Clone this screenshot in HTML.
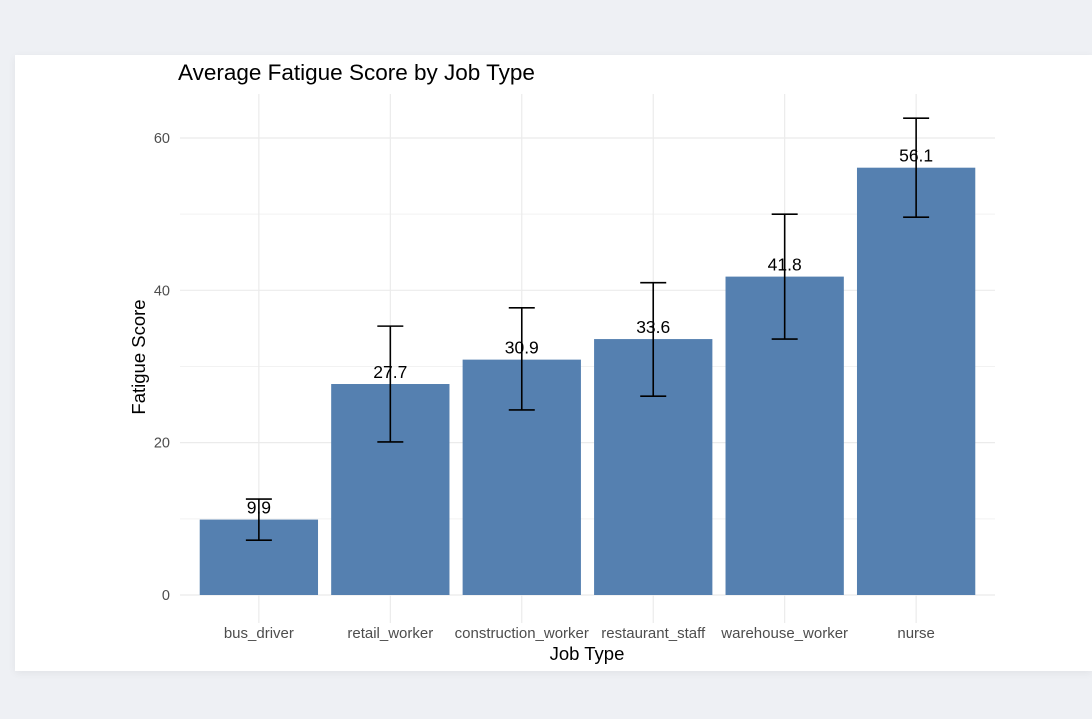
<!DOCTYPE html>
<html><head><meta charset="utf-8"><style>
body{margin:0;background:#eef0f4;font-family:"Liberation Sans",sans-serif;}
#card{position:absolute;left:15px;top:55px;width:1077px;height:616px;background:#fff;box-shadow:0 2px 8px rgba(0,0,0,0.06);}
svg{position:absolute;left:0;top:0;}
</style></head><body>
<div id="card"></div>
<svg id="chart" width="1092" height="719"></svg>
<script>
const categories=["bus_driver","retail_worker","construction_worker","restaurant_staff","warehouse_worker","nurse"];
const values=[9.9,27.7,30.9,33.6,41.8,56.1];
const errLow=[7.2,20.1,24.3,26.1,33.6,49.6];
const errHigh=[12.6,35.3,37.7,41.0,50.0,62.6];
const valueLabels=["9.9","27.7","30.9","33.6","41.8","56.1"];
const yTicks=[0,20,40,60];
const yMinor=[10,30,50];

const NS="http://www.w3.org/2000/svg";
const svg=document.getElementById('chart');
const L=180,R=995,T=94,B=595;
const y=v=>595-v*7.617;
const band=(R-L)/(categories.length+0.2);
const x=i=>L+band*(0.6+i);
function mk(t,a,p){const e=document.createElementNS(NS,t);for(const k in a)e.setAttribute(k,a[k]);(p||svg).appendChild(e);return e;}
yMinor.forEach(v=>{const l=mk('line',{x1:L,x2:R,y1:y(v),y2:y(v),stroke:'#f2f2f2','stroke-width':1});

});
yTicks.forEach(v=>{const l=mk('line',{x1:L,x2:R,y1:y(v),y2:y(v),stroke:'#ebebeb','stroke-width':1.2});


const t=mk('text',{x:170,y:y(v)+5,'text-anchor':'end','font-size':14.5,fill:'#4d4d4d'});t.textContent=v;

});
categories.forEach((c,i)=>{const l=mk('line',{x1:x(i),x2:x(i),y1:T,y2:B+28,stroke:'#ebebeb','stroke-width':1.2});

});
const bw=band*0.9;
categories.forEach((c,i)=>{
const r=mk('rect',{x:x(i)-bw/2,y:y(values[i]),width:bw,height:y(0)-y(values[i]),fill:'#5580b0'});


const g=mk('g',{stroke:'#000','stroke-width':1.6});


mk('line',{x1:x(i),x2:x(i),y1:y(errLow[i]),y2:y(errHigh[i])},g);
mk('line',{x1:x(i)-13,x2:x(i)+13,y1:y(errLow[i]),y2:y(errLow[i])},g);
mk('line',{x1:x(i)-13,x2:x(i)+13,y1:y(errHigh[i]),y2:y(errHigh[i])},g);
const t=mk('text',{x:x(i),y:y(values[i])-6,'text-anchor':'middle','font-size':17.5,fill:'#000'});t.textContent=valueLabels[i];


const xt=mk('text',{x:x(i),y:638,'text-anchor':'middle','font-size':15,fill:'#4d4d4d'});xt.textContent=c;


});
const tt=mk('text',{x:178,y:80,'font-size':22.5,fill:'#000'});tt.textContent='Average Fatigue Score by Job Type';


const xa=mk('text',{x:587,y:660,'text-anchor':'middle','font-size':18.5,fill:'#000'});xa.textContent='Job Type';


const ya=mk('text',{x:145,y:357,'text-anchor':'middle','font-size':18.5,fill:'#000',transform:'rotate(-90 145 357)'});ya.textContent='Fatigue Score';


</script>
</body></html>
